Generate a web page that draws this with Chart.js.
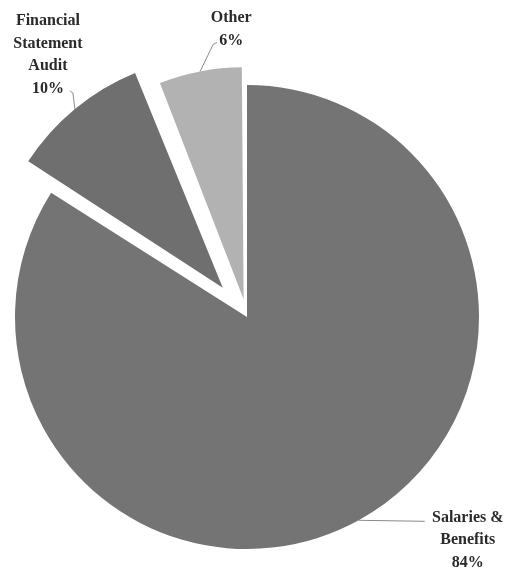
<!DOCTYPE html>
<html>
<head>
<meta charset="utf-8">
<script src="https://cdn.jsdelivr.net/npm/chart.js@4"></script>
<style>
  html, body { margin: 0; padding: 0; background: #fff; }
  #wrap { width: 508px; height: 569px; position: relative; }
</style>
</head>
<body>
<div id="wrap"><canvas id="pieChart"></canvas></div>
<script>
const categories = ['Salaries & Benefits', 'Financial Statement Audit', 'Other'];
const shares = [84, 10, 6];
// each label split into the lines it is printed on
const labelLines = [
    ['Salaries &', 'Benefits', '84%'],
    ['Financial', 'Statement', 'Audit', '10%'],
    ['Other', '6%']
];
const sliceColors = ['#747474', '#6f6f6f', '#b2b2b2'];
const explode = [0, 38, 18]; // px the slice is pulled out

// leader line bends, relative to the point on the slice edge
const leaderPoints = [
    [[66, 1]],
    [[-2, -16], [-5, -18]],
    [[13, -27], [17, -29]]
];
// centre of each text block, relative to the point on the slice edge
const labelShift = [[109, 20], [-27, -54], [31, -42]];

// Chart.js also grows an offset arc's radius; take that back out
const offsetFix = {
    id: 'offsetFix',
    afterDatasetsUpdate(chart) {
        chart.getDatasetMeta(0).data.forEach(arc => {
            const off = (arc.options.offset || 0) / 4;
            const circ = arc.endAngle - arc.startAngle;
            arc.outerRadius -= off * (1 - Math.sin(Math.min(Math.PI, circ)));
        });
    }
};

const sliceLabels = {
    id: 'sliceLabels',
    afterDraw(chart) {
        const ctx = chart.ctx;
        const meta = chart.getDatasetMeta(0);
        const R = chart.config.data.datasets[0].radius;
        meta.data.forEach((arc, i) => {
            const mid = (arc.startAngle + arc.endAngle) / 2;
            const r = R + explode[i];
            const ex = arc.x + Math.cos(mid) * r;
            const ey = arc.y + Math.sin(mid) * r;

            ctx.save();
            ctx.strokeStyle = '#8a8a8a';
            ctx.lineWidth = 1;
            ctx.beginPath();
            ctx.moveTo(ex, ey);
            leaderPoints[i].forEach(p => ctx.lineTo(ex + p[0], ey + p[1]));
            ctx.stroke();

            ctx.fillStyle = '#2a2a2a';
            ctx.font = 'bold 16px "Liberation Serif", "DejaVu Serif", serif';
            ctx.textAlign = 'center';
            ctx.textBaseline = 'middle';
            const lines = labelLines[i];
            const lh = 22.5;
            const cx = ex + labelShift[i][0];
            const cy = ey + labelShift[i][1] - (lines.length - 1) * lh / 2;
            lines.forEach((t, k) => ctx.fillText(t, cx, cy + k * lh));
            ctx.restore();
        });
    }
};

new Chart(document.getElementById('pieChart'), {
    type: 'pie',
    data: {
        labels: categories,
        datasets: [{
            data: shares,
            backgroundColor: sliceColors,
            borderWidth: 0,
            offset: explode.map(v => v * 4),
            hoverOffset: 0,
            radius: 232,
            clip: false
        }]
    },
    options: {
        responsive: true,
        maintainAspectRatio: false,
        animation: false,
        layout: { padding: { left: 0, right: 14, top: 65, bottom: 0 } },
        plugins: {
            legend: { display: false },
            tooltip: { enabled: false }
        },
        events: []
    },
    plugins: [offsetFix, sliceLabels]
});
</script>
</body>
</html>
